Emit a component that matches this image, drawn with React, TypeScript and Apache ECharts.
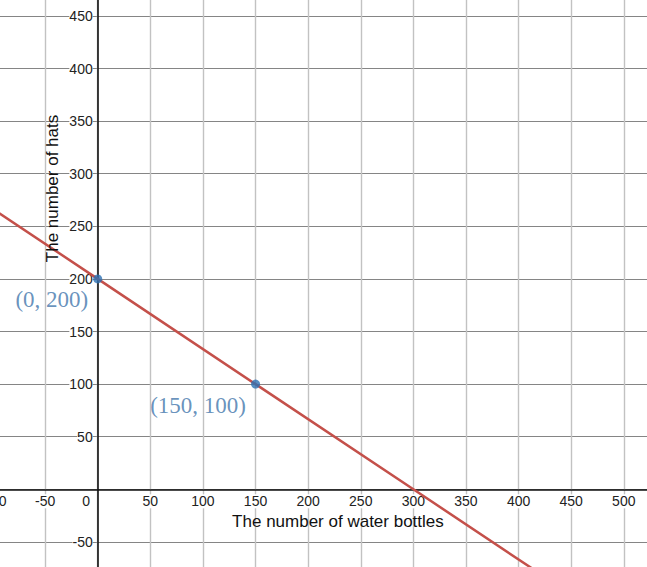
import React, { useEffect, useRef } from "react";
import * as echarts from "echarts";

const xTitle = "The number of water bottles";
const yTitle = "The number of hats";
// points on the line y = 200 - 2x/3
const linePoints: number[][] = [[-100, 266.7], [0, 200], [150, 100], [300, 0], [450, -100]];
const markedPoints: number[][] = [[0, 200], [150, 100]];
const pointLabels = ["(0, 200)", "(150, 100)"];
const xRange = [-100, 550];
const yRange = [-100, 500];
const tickStep = 50;

export default function App() {
  const ref = useRef<HTMLDivElement>(null);
  useEffect(() => {
    const chart = echarts.init(ref.current!, undefined, { renderer: "svg" });
    const labelFont = "Liberation Sans, Arial, sans-serif";
    chart.setOption({
      animation: false,
      backgroundColor: "#ffffff",
      grid: { left: -7.5, right: -29.4, top: -36.7, bottom: -27.5, containLabel: false, outerBoundsMode: "none" },
      xAxis: [
        {
          type: "value",
          position: "bottom",
          offset: -105.2,
          min: xRange[0],
          max: xRange[1],
          interval: tickStep,
          axisLine: { onZero: false, lineStyle: { color: "#111", width: 1.6 } },
          axisTick: { show: false },
          splitLine: { show: true, lineStyle: { color: "#c2c2c2", width: 1.4 } },
          axisLabel: {
            color: "#222",
            fontFamily: labelFont,
            fontSize: 14,
            margin: 5,
            showMinLabel: true,
            showMaxLabel: true,
            backgroundColor: "#fff",
            formatter: (v: number) => (v === 0 ? "" : String(v)),
          },
          name: xTitle,
          nameLocation: "middle",
          nameGap: 17,
          nameTextStyle: { color: "#111", fontFamily: labelFont, fontSize: 17, padding: [0, 0, 0, 7] },
        },
        {
          type: "value",
          position: "bottom",
          offset: -105.2,
          min: xRange[0],
          max: xRange[1],
          interval: tickStep,
          axisLine: { show: false, onZero: false },
          axisTick: { show: false },
          splitLine: { show: false },
          axisLabel: {
            color: "#222",
            fontFamily: labelFont,
            fontSize: 14,
            margin: 5,
            align: "right",
            formatter: (v: number) => (v === 0 ? "0\u00a0\u00a0" : ""),
          },
        },
      ],
      yAxis: {
        type: "value",
        position: "left",
        offset: -105.2,
        min: yRange[0],
        max: yRange[1],
        interval: tickStep,
        axisLine: { onZero: false, lineStyle: { color: "#111", width: 1.6 } },
        axisTick: { show: false },
        splitLine: { show: true, lineStyle: { color: "#858585", width: 1 } },
        axisLabel: {
          color: "#222",
          fontFamily: labelFont,
          fontSize: 14,
          margin: 5,
          backgroundColor: "#fff",
          formatter: (v: number) => (v === 0 ? "" : String(v)),
        },
      },
      graphic: [
        {
          type: "text",
          x: 52,
          y: 188.5,
          rotation: Math.PI / 2,
          style: {
            text: yTitle,
            font: "17px Liberation Sans, Arial, sans-serif",
            fill: "#111",
            align: "center",
            verticalAlign: "middle",
          },
          z: 10,
        },
      ],
      series: [
        {
          type: "line",
          data: linePoints,
          showSymbol: false,
          clip: true,
          lineStyle: { color: "#c4504a", width: 2.5 },
          z: 3,
        },
        {
          type: "scatter",
          data: markedPoints,
          symbolSize: 9,
          itemStyle: { color: "#2d70b3" },
          z: 5,
          label: {
            show: true,
            formatter: (p: any) => pointLabels[p.dataIndex],
            position: "left",
            distance: 5,
            offset: [0, 21],
            fontFamily: "Liberation Serif, Times New Roman, serif",
            fontSize: 23,
            color: "#4276ab",
          },
        },
      ],
    });
    return () => chart.dispose();
  }, []);
  return (
    <div
      ref={ref}
      style={{ position: "fixed", left: 0, top: 0, width: 647, height: 567, background: "#fff" }}
    />
  );
}
